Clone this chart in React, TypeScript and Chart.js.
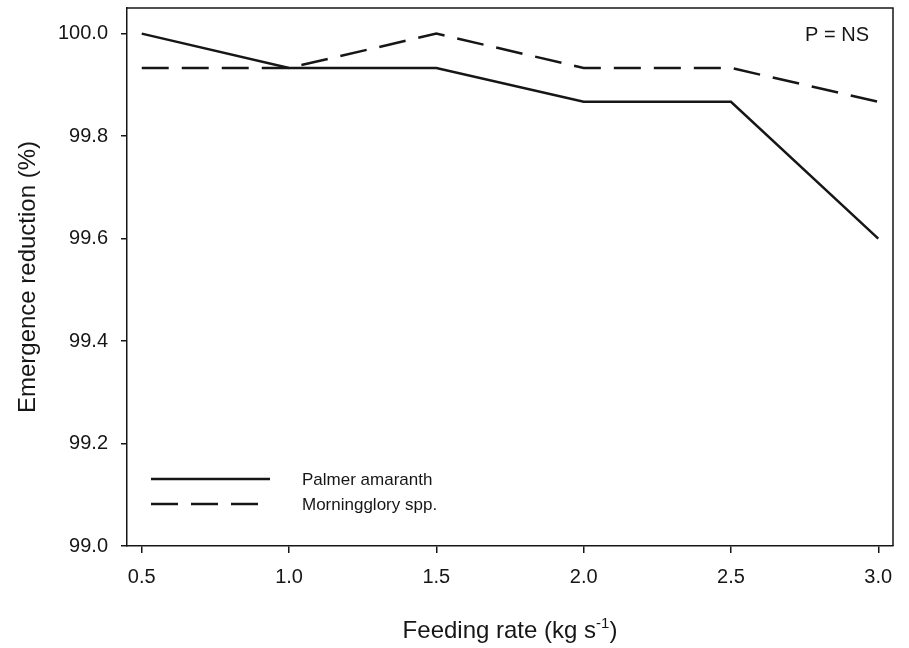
import React, { useEffect, useRef } from "react";
import { Chart, registerables } from "chart.js";

Chart.register(...registerables);

const feedingRates = [0.5, 1.0, 1.5, 2.0, 2.5, 3.0];
const palmerAmaranth = [100.0, 99.933, 99.933, 99.867, 99.867, 99.6];
const morningglory = [99.933, 99.933, 100.0, 99.933, 99.933, 99.867];
const xTicks = [0.5, 1.0, 1.5, 2.0, 2.5, 3.0];
const yTicks = [99.0, 99.2, 99.4, 99.6, 99.8, 100.0];
const seriesNames = ["Palmer amaranth", "Morningglory spp."];
const annotationText = "P = NS";
const yTitle = "Emergence reduction (%)";
const xTitleMain = "Feeding rate (kg s";
const xTitleSup = "-1";
const xTitleEnd = ")";

const FONT = "'Liberation Sans', Arial, Helvetica, sans-serif";
const INK = "#161616";
const DASH = [27, 13];

const overlayPlugin = {
  id: "overlay",
  afterDraw(chart: any) {
    const ctx = chart.ctx;
    const a = chart.chartArea;
    ctx.save();
    // frame (top/right)
    ctx.strokeStyle = INK;
    ctx.lineWidth = 1.5;
    ctx.beginPath();
    ctx.moveTo(a.left, a.top);
    ctx.lineTo(a.right, a.top);
    ctx.lineTo(a.right, a.bottom);
    ctx.stroke();

    // legend
    const lx0 = a.left + 24;
    const lx1 = a.left + 143;
    const ys = [a.top + 471, a.top + 496];
    ctx.lineWidth = 2.5;
    ctx.lineCap = "butt";
    ys.forEach((y, i) => {
      ctx.setLineDash(i === 0 ? [] : DASH);
      ctx.beginPath();
      ctx.moveTo(lx0, y);
      ctx.lineTo(lx1, y);
      ctx.stroke();
    });
    ctx.setLineDash([]);
    ctx.fillStyle = INK;
    ctx.font = `17px ${FONT}`;
    ctx.textBaseline = "middle";
    ctx.textAlign = "left";
    ys.forEach((y, i) => ctx.fillText(seriesNames[i], a.left + 175, y + 1));

    // annotation
    ctx.font = `20px ${FONT}`;
    ctx.textAlign = "right";
    ctx.fillText(annotationText, a.right - 24, a.top + 27);

    // x title with superscript
    ctx.font = `24px ${FONT}`;
    const w1 = ctx.measureText(xTitleMain).width;
    ctx.font = `15px ${FONT}`;
    const w2 = ctx.measureText(xTitleSup).width;
    ctx.font = `24px ${FONT}`;
    const w3 = ctx.measureText(xTitleEnd).width;
    const total = w1 + w2 + w3;
    const cx = (a.left + a.right) / 2;
    let x = cx - total / 2;
    const baseY = 638;
    ctx.textAlign = "left";
    ctx.textBaseline = "alphabetic";
    ctx.fillText(xTitleMain, x, baseY);
    x += w1;
    ctx.font = `15px ${FONT}`;
    ctx.fillText(xTitleSup, x, baseY - 10);
    x += w2;
    ctx.font = `24px ${FONT}`;
    ctx.fillText(xTitleEnd, x, baseY);
    ctx.restore();
  },
};

export default function App() {
  const ref = useRef<HTMLCanvasElement | null>(null);
  useEffect(() => {
    if (!ref.current) return;
    const chart = new Chart(ref.current, {
      type: "line",
      data: {
        datasets: [
          {
            label: seriesNames[0],
            data: feedingRates.map((x, i) => ({ x, y: palmerAmaranth[i] })),
            borderColor: INK,
            borderWidth: 2.5,
            pointRadius: 0,
            fill: false,
            tension: 0,
          },
          {
            label: seriesNames[1],
            data: feedingRates.map((x, i) => ({ x, y: morningglory[i] })),
            borderColor: INK,
            borderWidth: 2.5,
            borderDash: DASH,
            pointRadius: 0,
            fill: false,
            tension: 0,
          },
        ],
      },
      options: {
        responsive: false,
        animation: false,
        layout: { padding: { top: 8, right: 16, left: 0, bottom: 0 } },
        plugins: { legend: { display: false }, tooltip: { enabled: false } },
        scales: {
          x: {
            type: "linear",
            min: 0.45,
            max: 3.05,
            afterBuildTicks: (s: any) => {
              s.ticks = xTicks.map((v) => ({ value: v }));
            },
            afterFit: (s: any) => {
              s.height = 102;
              s.paddingLeft = 0;
              s.paddingRight = 0;
              s.paddingTop = 0;
              s.paddingBottom = 0;
            },
            grid: {
              display: true,
              drawOnChartArea: false,
              drawTicks: true,
              tickLength: 7,
              color: INK,
              lineWidth: 1.5,
            },
            border: { display: true, color: INK, width: 1.5 },
            ticks: {
              color: INK,
              font: { family: FONT, size: 20 },
              padding: 12,
              maxRotation: 0,
              autoSkip: false,
              callback: (v: any) => Number(v).toFixed(1),
            },
          },
          y: {
            type: "linear",
            min: 99.0,
            max: 100.05,
            afterBuildTicks: (s: any) => {
              s.ticks = yTicks.map((v) => ({ value: v }));
            },
            afterFit: (s: any) => {
              s.width = 127;
              s.paddingLeft = 0;
              s.paddingRight = 0;
              s.paddingTop = 0;
              s.paddingBottom = 0;
            },
            grid: {
              display: true,
              drawOnChartArea: false,
              drawTicks: true,
              tickLength: 6,
              color: INK,
              lineWidth: 1.5,
            },
            border: { display: true, color: INK, width: 1.5 },
            ticks: {
              color: INK,
              font: { family: FONT, size: 20 },
              padding: 13,
              autoSkip: false,
              callback: (v: any) => Number(v).toFixed(1),
            },
            title: {
              display: true,
              text: yTitle,
              color: INK,
              font: { family: FONT, size: 24, weight: "normal" },
              padding: { top: 14, bottom: 0 },
            },
          },
        },
      },
      plugins: [overlayPlugin],
    });
    return () => chart.destroy();
  }, []);
  return (
    <div style={{ position: "absolute", left: 0, top: 0, width: 909, height: 648, background: "#fff" }}>
      <canvas ref={ref} width={909} height={648} style={{ display: "block" }} />
    </div>
  );
}
